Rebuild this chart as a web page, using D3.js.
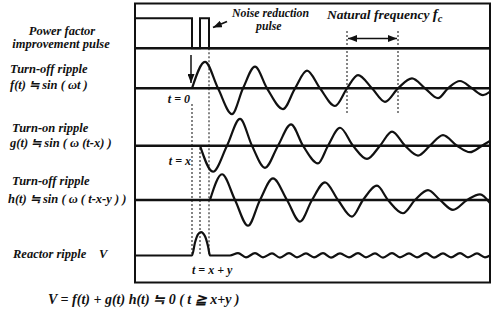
<!DOCTYPE html>
<html>
<head>
<meta charset="utf-8">
<script src="https://cdn.jsdelivr.net/npm/d3@7"></script>
<style>
  body { margin: 0; background: #fff; }
</style>
</head>
<body>
<svg id="chart" width="492" height="314" font-family="'Liberation Serif', 'Times New Roman', Tinos, serif" font-weight="bold" font-style="italic"></svg>
<script>
// time: t = 0 at turn-off (units of 1/10 chart division), amplitude: % of first swing
const pulse = [[-5.7, 1], [0, 1], [0, 0], [0.8, 0], [0.8, 1], [1.7, 1], [1.7, 0], [29.8, 0]];

const turnOff = [[0, 0], [1.3, 102], [2.6, 0], [4.0, -99], [5.1, 0], [6.3, 83], [7.5, 0], [9.1, -80],
  [10.3, 0], [11.5, 68], [12.8, 0], [14.3, -68], [15.5, 0], [16.6, 51], [18.0, 0], [19.3, -52],
  [20.6, 0], [22.0, 38], [23.3, 0], [24.6, -38], [25.6, 0], [26.8, 28], [28.0, 0], [29.1, -26], [29.8, -13]];

const turnOn = [[0.8, 0], [2.1, -100], [3.5, 0], [4.8, 103], [6.0, 0], [7.3, -85], [8.6, 0], [9.9, 82],
  [11.1, 0], [12.6, -68], [13.6, 0], [14.8, 69], [16.1, 0], [17.5, -51], [18.8, 0], [20.0, 54],
  [21.3, 0], [22.6, -38], [23.8, 0], [25.1, 41], [26.5, 0], [27.8, -25], [29.0, 0], [29.8, 18]];

const turnOff2 = [[1.8, 0], [3.0, 99], [4.3, 0], [5.6, -99], [6.8, 0], [8.1, 83], [9.5, 0], [10.8, -83],
  [12.0, 0], [13.3, 68], [14.6, 0], [16.0, -64], [17.1, 0], [18.5, 55], [19.6, 0], [21.1, -51],
  [22.3, 0], [23.6, 38], [24.8, 0], [26.1, -38], [27.5, 0], [28.8, 22], [29.8, -12]];

const reactor = [[-5.7, 0], [0, 0], [0.3, 50], [0.6, 81], [0.9, 90], [1.3, 74], [1.6, 36], [1.8, 0], [3.8, 0],
  [4.6, 9], [5.4, -7], [6.3, 9], [7.1, -7], [8.0, 8], [8.8, -8], [9.7, 9], [10.5, -7], [11.4, 8],
  [12.2, -7], [13.1, 9], [13.9, -8], [14.8, 8], [15.7, -7], [16.6, 9], [17.4, -7], [18.3, 8],
  [19.1, -8], [20.0, 9], [20.8, -7], [21.7, 8], [22.5, -7], [23.4, 9], [24.2, -8], [25.1, 8],
  [25.9, -7], [26.8, 9], [27.6, -7], [28.5, 8], [29.3, -7], [29.8, 0]];

const events = [0, 0.8, 1.7];
const eventLabels = ['t = 0', 't = x', 't = x + y'];
const fcMarks = [15.5, 20.6];

const rowLabels = [
  ['Power factor', 'improvement pulse'],
  ['Turn-off ripple', 'f(t) \u2252 sin ( \u03c9t )'],
  ['Turn-on ripple', 'g(t) \u2252 sin ( \u03c9 (t-x) )'],
  ['Turn-off ripple', 'h(t) \u2252 sin ( \u03c9 ( t-x-y ) )'],
  ['Reactor ripple']
];
const formula = 'V = f(t) + g(t) h(t) \u2252 0 ( t \u2267 x+y )';

const svg = d3.select('#chart');
const frame = { left: 135, right: 490, top: 3.5, bottom: 282.5 };
const pulseBase = 48.3, pulseTop = 18.3;
const baselines = [88.3, 145.7, 200, 255.5];

const x = d3.scaleLinear().domain([-5.7, 29.8]).range([frame.left, frame.right]);
const amp = d3.scaleLinear().domain([-100, 100]).range([26, -26]);
const level = d3.scaleLinear().domain([0, 1]).range([pulseBase, pulseTop]);

svg.append('rect').attr('width', 492).attr('height', 314).attr('fill', '#fff');

const defs = svg.append('defs');
defs.append('marker')
  .attr('id', 'head')
  .attr('markerUnits', 'userSpaceOnUse')
  .attr('markerWidth', 9).attr('markerHeight', 7)
  .attr('refX', 9).attr('refY', 3.5)
  .attr('orient', 'auto-start-reverse')
  .append('path').attr('d', 'M0,0 L9,3.5 L0,7 Z').attr('fill', '#111');

// frame
svg.append('rect')
  .attr('x', frame.left).attr('y', frame.top)
  .attr('width', frame.right - frame.left).attr('height', frame.bottom - frame.top)
  .attr('fill', 'none').attr('stroke', '#111').attr('stroke-width', 2);

// dotted guides
const dotted = svg.append('g').attr('stroke', '#222').attr('stroke-width', 1.1).attr('stroke-dasharray', '2,2');
const guideTop = [104, 148, pulseBase];
events.forEach((t, i) => {
  dotted.append('line').attr('x1', x(t)).attr('x2', x(t))
    .attr('y1', guideTop[i]).attr('y2', baselines[3]);
});
fcMarks.forEach(t => {
  dotted.append('line').attr('x1', x(t)).attr('x2', x(t)).attr('y1', 31).attr('y2', 115);
});

// row baselines (reactor row baseline is part of its own trace)
svg.append('g').selectAll('line')
  .data([pulseBase].concat(baselines.slice(0, 3)))
  .enter().append('line')
  .attr('x1', frame.left).attr('x2', frame.right)
  .attr('y1', d => d).attr('y2', d => d)
  .attr('stroke', '#111').attr('stroke-width', 2.4);

// pulse train
svg.append('path')
  .attr('d', d3.line().x(d => x(d[0])).y(d => level(d[1]))(pulse))
  .attr('fill', 'none').attr('stroke', '#111').attr('stroke-width', 2);

// ripples
const waves = [turnOff, turnOn, turnOff2, reactor];
waves.forEach((w, i) => {
  const line = d3.line()
    .x(d => x(d[0]))
    .y(d => baselines[i] + amp(d[1]))
    .curve(d3.curveMonotoneX);
  svg.append('path')
    .attr('d', line(w))
    .attr('fill', 'none').attr('stroke', '#111').attr('stroke-width', 2.2);
});

// arrows
svg.append('line')
  .attr('x1', x(0) - 1).attr('x2', x(0) - 1).attr('y1', 55).attr('y2', 83)
  .attr('stroke', '#111').attr('stroke-width', 1.5).attr('marker-end', 'url(#head)');
svg.append('line')
  .attr('x1', 227).attr('y1', 21.5).attr('x2', 213).attr('y2', 27.5)
  .attr('stroke', '#111').attr('stroke-width', 1.8).attr('marker-end', 'url(#head)');
svg.append('line')
  .attr('x1', x(fcMarks[0]) + 1).attr('x2', x(fcMarks[1]) - 1).attr('y1', 38.5).attr('y2', 38.5)
  .attr('stroke', '#111').attr('stroke-width', 1.4)
  .attr('marker-start', 'url(#head)').attr('marker-end', 'url(#head)');

// annotations
const txt = (x0, y0, s, size, anchor) => svg.append('text')
  .attr('x', x0).attr('y', y0).attr('fill', '#111')
  .attr('text-anchor', anchor || 'start')
  .style('font-size', size + 'px').text(s);

txt(232, 16.5, 'Noise reduction', 11.8);
txt(256, 29.5, 'pulse', 11.8);
const fc = txt(327, 19, 'Natural frequency  ', 13.5);
fc.append('tspan').style('font-size', '15px').text('f');
fc.append('tspan').attr('dy', 3).style('font-size', '10.5px').text('c');

const evPos = [[190, 103, 'end'], [191, 165, 'end'], [192, 274, 'start']];
eventLabels.forEach((s, i) => txt(evPos[i][0], evPos[i][1], s, 12, evPos[i][2]));

// left labels
const labelY = [[34.5, 48], [73, 89], [132, 147], [185, 203], [258]];
const labelX = [[62, 61, 'middle'], [10, 10, 'start'], [12, 10, 'start'], [12, 8, 'start'], [13, 13, 'start']];
rowLabels.forEach((lines, i) => {
  lines.forEach((s, j) => txt(labelX[i][j], labelY[i][j], s, 12.5, labelX[i][2]));
});
txt(99, 258, 'V', 12.5);

txt(48, 304, formula, 14);
</script>
</body>
</html>
